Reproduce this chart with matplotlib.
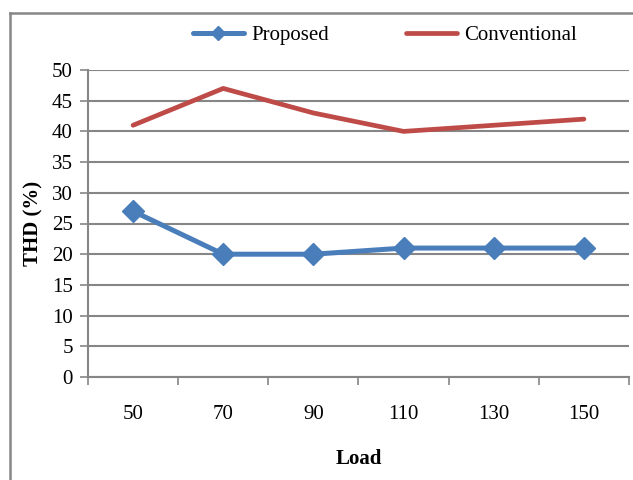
import matplotlib
matplotlib.use("Agg")
import matplotlib.pyplot as plt
from matplotlib.lines import Line2D

loads = ["50", "70", "90", "110", "130", "150"]
proposed = [27, 20, 20, 21, 21, 21]
conventional = [41, 47, 43, 40, 41, 42]
y_ticks = [0, 5, 10, 15, 20, 25, 30, 35, 40, 45, 50]

plt.rcParams["font.family"] = ["Liberation Serif", "DejaVu Serif"]

W, H = 633, 480
fig = plt.figure(figsize=(W / 100, H / 100), dpi=100)
ax = fig.add_axes([88 / W, 1 - 377 / H, (629 - 88) / W, (377 - 70) / H])

grid_c = "#868686"
blue = "#4A7EBB"
red = "#BE4B48"
fs = 15

x = list(range(len(loads)))
ax.plot(x, proposed, color=blue, lw=3.6, marker="D", markersize=11,
        label="Proposed", solid_capstyle="round", zorder=3)
ax.plot(x, conventional, color=red, lw=3.4, label="Conventional",
        solid_capstyle="round", zorder=3)

ax.set_xlim(-0.5, len(loads) - 0.5)
ax.set_ylim(0, 50)
ax.set_yticks(y_ticks)
ax.yaxis.grid(True, color=grid_c, lw=1.5)
ax.set_axisbelow(True)

# category labels centered, tick marks at category boundaries
ax.set_xticks(x)
ax.set_xticklabels(loads, fontsize=fs)
ax.tick_params(axis="x", which="major", length=0, pad=20)
ax.set_xticks([i - 0.5 for i in range(len(loads) + 1)], minor=True)
ax.tick_params(axis="x", which="minor", length=6, width=1.2, color=grid_c, direction="out")
ax.tick_params(axis="y", length=6, width=1.2, color=grid_c, labelsize=fs, pad=5)

for s in ["top", "right"]:
    ax.spines[s].set_visible(False)
for s in ["left", "bottom"]:
    ax.spines[s].set_color(grid_c)
    ax.spines[s].set_linewidth(1.5)

ax.set_ylabel("THD (%)", fontsize=fs, fontweight="bold", labelpad=6)
ax.set_xlabel("Load", fontsize=fs, fontweight="bold", labelpad=18)

fig.legend(loc="center", bbox_to_anchor=(385 / W, 1 - 35 / H), ncol=2,
           frameon=False, fontsize=fs, handlelength=2.45, handletextpad=0.35,
           columnspacing=3.7, markerscale=0.65)

# outer chart frame
fig.add_artist(Line2D([10 / W, 10 / W], [0, 1 - 13 / H], transform=fig.transFigure,
                      color=grid_c, lw=1.8))
fig.add_artist(Line2D([10 / W, 1], [1 - 13 / H, 1 - 13 / H], transform=fig.transFigure,
                      color=grid_c, lw=1.8))

fig.savefig("out.png", dpi=100)
